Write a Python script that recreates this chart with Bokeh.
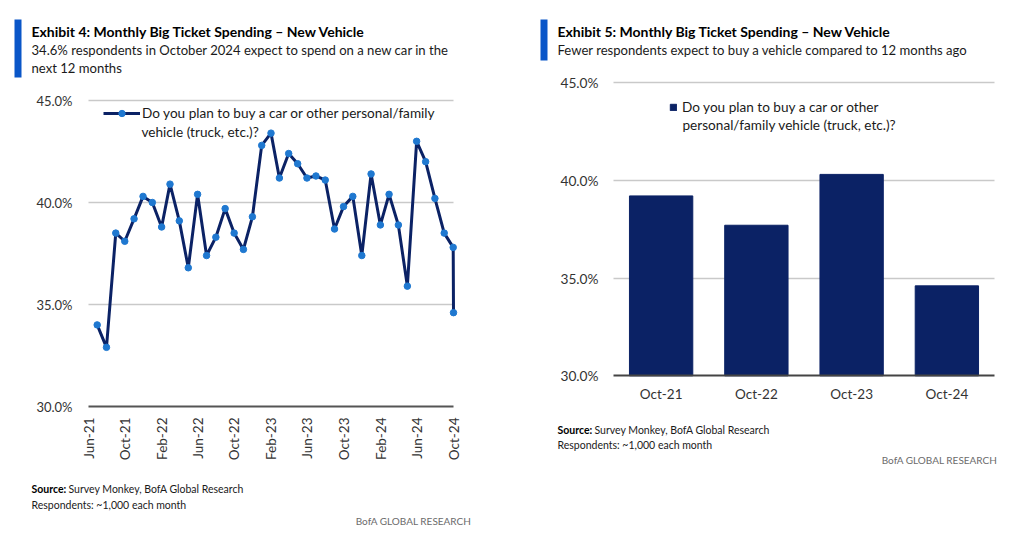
import pandas as pd
from bokeh.plotting import figure
from bokeh.models import (Range1d, FixedTicker, PrintfTickFormatter, DatetimeTickFormatter,
                          Label, BoxAnnotation, Legend, LegendItem, Grid)
from bokeh.layouts import row
from bokeh.embed import file_html
from bokeh.resources import INLINE

# ---------------- data ----------------
survey_dates = [
    "2021-06-30", "2021-07-31", "2021-08-31", "2021-09-30", "2021-10-31", "2021-11-30", "2021-12-31",
    "2022-01-31", "2022-02-28", "2022-03-31", "2022-04-30", "2022-05-31", "2022-06-30",
    "2022-07-31", "2022-08-31", "2022-09-30", "2022-10-31", "2022-11-30", "2022-12-31",
    "2023-01-31", "2023-02-28", "2023-03-31", "2023-04-30", "2023-05-31", "2023-06-30",
    "2023-07-31", "2023-08-31", "2023-09-30", "2023-10-31", "2023-11-30", "2023-12-31",
    "2024-01-31", "2024-02-29", "2024-03-31", "2024-04-30", "2024-05-31", "2024-06-30",
    "2024-07-31", "2024-08-31", "2024-09-30", "2024-10-01",
]
plan_to_buy = [
    34.0, 32.9, 38.5, 38.1, 39.2, 40.3, 40.0,
    38.8, 40.9, 39.1, 36.8, 40.4, 37.4,
    38.3, 39.7, 38.5, 37.7, 39.3, 42.8,
    43.4, 41.2, 42.4, 41.9, 41.2, 41.3,
    41.1, 38.7, 39.8, 40.3, 37.4, 41.4,
    38.9, 40.4, 38.9, 35.9, 43.0, 42.0,
    40.2, 38.5, 37.8, 34.6,
]
tick_labels = ["Jun-21", "Oct-21", "Feb-22", "Jun-22", "Oct-22", "Feb-23",
               "Jun-23", "Oct-23", "Feb-24", "Jun-24", "Oct-24"]
bar_categories = ["Oct-21", "Oct-22", "Oct-23", "Oct-24"]
bar_values = [39.2, 37.7, 40.3, 34.6]
y_ticks = [30, 35, 40, 45]
grid_ticks = [35, 40, 45]

series_name_1 = "Do you plan to buy a car or other personal/family"
series_name_2 = "vehicle (truck, etc.)?"
bar_name_1 = "Do you plan to buy a car or other"
bar_name_2 = "personal/family vehicle (truck, etc.)?"

# ---------------- style ----------------
NAVY = "#0b2265"
MARK = "#1f78d0"
ACCENT = "#0a56c8"
FONT = "Lato"
TXT = "#1a1a1a"
W, H = 510, 535
TOP, BOTTOM = 0, H          # canvas edges on the page
BASE_FIX = 5.5              # baseline correction for labels

x_dates = pd.to_datetime(survey_dates)
tick_ms = [pd.to_datetime("1-" + t, format="%d-%b-%y").value // 10**6 for t in tick_labels]
bar_x = list(range(len(bar_categories)))


def span(lo, hi, p_lo, p_hi, c_lo, c_hi):
    """Range whose values lo/hi fall on page pixels p_lo/p_hi, for a canvas c_lo..c_hi."""
    k = (hi - lo) / (p_hi - p_lo)
    return lo + (c_lo - p_lo) * k, lo + (c_hi - p_lo) * k


def add_text(p, ox, px, py, text, size="14px", bold=False, color=TXT, align="left"):
    p.add_layout(Label(x=px - ox, y=BOTTOM - py + BASE_FIX, x_units="screen", y_units="screen",
                       text=text, text_font=FONT, text_font_size=size,
                       text_font_style="bold" if bold else "normal", text_color=color,
                       text_align=align, text_baseline="alphabetic"))


def add_bar(p, ox, x0, x1, y0, y1):
    p.add_layout(BoxAnnotation(left=x0 - ox, right=x1 - ox, top=BOTTOM - y0, bottom=BOTTOM - y1,
                               left_units="screen", right_units="screen",
                               top_units="screen", bottom_units="screen",
                               fill_color=ACCENT, fill_alpha=1, line_color=None))


def make_fig(xr, yr, **kw):
    p = figure(width=W, height=H, output_backend="svg", toolbar_location=None, tools="",
               x_range=Range1d(*xr), y_range=Range1d(*yr),
               min_border=0, min_border_left=0, min_border_right=0,
               min_border_top=0, min_border_bottom=0, **kw)
    if p.title is not None:
        p.title.visible = False
    p.outline_line_color = None
    return p


def style_axes(p, x_lo, x_hi, xsize, ysize):
    p.xgrid.grid_line_color = None
    p.ygrid.ticker = FixedTicker(ticks=grid_ticks)
    p.ygrid.grid_line_color = "#c9c9c9"
    p.ygrid.grid_line_width = 1.5
    if "cross_bounds" in Grid.properties():
        p.ygrid.cross_bounds = (x_lo, x_hi)
    p.yaxis.fixed_location = x_lo
    p.yaxis.ticker = FixedTicker(ticks=y_ticks)
    p.yaxis.formatter = PrintfTickFormatter(format="%.1f%%")
    p.yaxis.axis_line_color = None
    p.yaxis.major_tick_line_color = None
    p.yaxis.minor_tick_line_color = None
    p.yaxis.major_tick_out = 0
    p.yaxis.major_tick_in = 0
    p.yaxis.major_label_text_font = FONT
    p.yaxis.major_label_text_font_size = ysize
    p.yaxis.major_label_text_color = "#333333"
    p.xaxis.fixed_location = y_ticks[0]
    p.xaxis.bounds = (x_lo, x_hi)
    p.xaxis.axis_line_color = "#555555"
    p.xaxis.axis_line_width = 2
    p.xaxis.major_tick_line_color = None
    p.xaxis.minor_tick_line_color = None
    p.xaxis.major_tick_out = 0
    p.xaxis.major_tick_in = 0
    p.xaxis.major_label_text_font = FONT
    p.xaxis.major_label_text_font_size = xsize
    p.xaxis.major_label_text_color = "#333333"


# ---------------- left chart ----------------
OX1 = 0
xr1 = span(tick_ms[0], tick_ms[-1], 88, 453, OX1, OX1 + W)
yr1 = span(30, 45, 406, 100, BOTTOM, TOP)
p1 = make_fig(xr1, yr1, x_axis_type="datetime")
style_axes(p1, tick_ms[0], tick_ms[-1], "13.5px", "13px")
p1.xaxis.ticker = FixedTicker(ticks=tick_ms)
p1.xaxis.formatter = DatetimeTickFormatter(days="%b-%y", months="%b-%y", years="%b-%y")
p1.xaxis.major_label_orientation = 3.14159265 / 2
p1.xaxis.major_label_standoff = 11
p1.yaxis.major_label_standoff = 16

ln = p1.line(x_dates, plan_to_buy, line_width=3, color=NAVY, line_join="round")
sc = p1.scatter(x_dates, plan_to_buy, marker="circle", size=6.5, color=MARK)

leg1 = Legend(items=[LegendItem(label=series_name_1, renderers=[ln, sc])],
              location=(103 - OX1, BOTTOM - 121), padding=0, margin=0,
              glyph_width=37, glyph_height=16, label_height=16, label_standoff=2,
              border_line_color=None, background_fill_alpha=0,
              label_text_font=FONT, label_text_font_size="13.6px", label_text_color=TXT)
p1.add_layout(leg1)
add_text(p1, OX1, 141, 137, series_name_2, size="13.6px")

add_bar(p1, OX1, 14, 21, 19, 77)
add_text(p1, OX1, 31, 36, "Exhibit 4: Monthly Big Ticket Spending \u2013 New Vehicle", size="14px", bold=True, color="#000000")
add_text(p1, OX1, 31, 55, "34.6% respondents in October 2024 expect to spend on a new car in the", size="13.1px")
add_text(p1, OX1, 31, 73, "next 12 months", size="13.1px")
add_text(p1, OX1, 31, 494, "Source:", size="10.5px", bold=True, color="#000000")
add_text(p1, OX1, 68, 494, "Survey Monkey, BofA Global Research", size="10.5px")
add_text(p1, OX1, 31, 510, "Respondents: ~1,000 each month", size="10.5px")
add_text(p1, OX1, 471, 526, "BofA GLOBAL RESEARCH", size="10px", color="#6b6b6b", align="right")

# ---------------- right chart ----------------
OX2 = OX1 + W
xr2 = span(-0.5, len(bar_categories) - 0.5, 613, 994, OX2, OX2 + W)
yr2 = span(30, 45, 375.3, 82, BOTTOM, TOP)
p2 = make_fig(xr2, yr2)
style_axes(p2, -0.5, len(bar_categories) - 0.5, "13.5px", "13.7px")
p2.xaxis.ticker = FixedTicker(ticks=bar_x)
p2.xaxis.major_label_overrides = {i: c for i, c in zip(bar_x, bar_categories)}
p2.xaxis.major_label_standoff = 10
p2.yaxis.major_label_standoff = 15
p2.xaxis.axis_line_color = "#444444"

br = p2.vbar(x=bar_x, top=bar_values, bottom=y_ticks[0], width=0.665, color=NAVY)

leg2 = Legend(items=[LegendItem(label=bar_name_1, renderers=[br])],
              location=(669 - OX2, BOTTOM - 115), padding=0, margin=0,
              glyph_width=8, glyph_height=8, label_height=16, label_standoff=5,
              border_line_color=None, background_fill_alpha=0,
              label_text_font=FONT, label_text_font_size="13.6px", label_text_color=TXT)
p2.add_layout(leg2)
add_text(p2, OX2, 682, 130, bar_name_2, size="13.6px")

add_bar(p2, OX2, 540, 547, 19, 60)
add_text(p2, OX2, 557, 36, "Exhibit 5: Monthly Big Ticket Spending \u2013 New Vehicle", size="14px", bold=True, color="#000000")
add_text(p2, OX2, 557, 55, "Fewer respondents expect to buy a vehicle compared to 12 months ago", size="13.1px")
add_text(p2, OX2, 557, 435, "Source:", size="10.5px", bold=True, color="#000000")
add_text(p2, OX2, 594, 435, "Survey Monkey, BofA Global Research", size="10.5px")
add_text(p2, OX2, 557, 450, "Respondents: ~1,000 each month", size="10.5px")
add_text(p2, OX2, 997, 465, "BofA GLOBAL RESEARCH", size="10px", color="#6b6b6b", align="right")

layout = row(p1, p2)
open("out.html", "w").write(file_html(layout, INLINE))
